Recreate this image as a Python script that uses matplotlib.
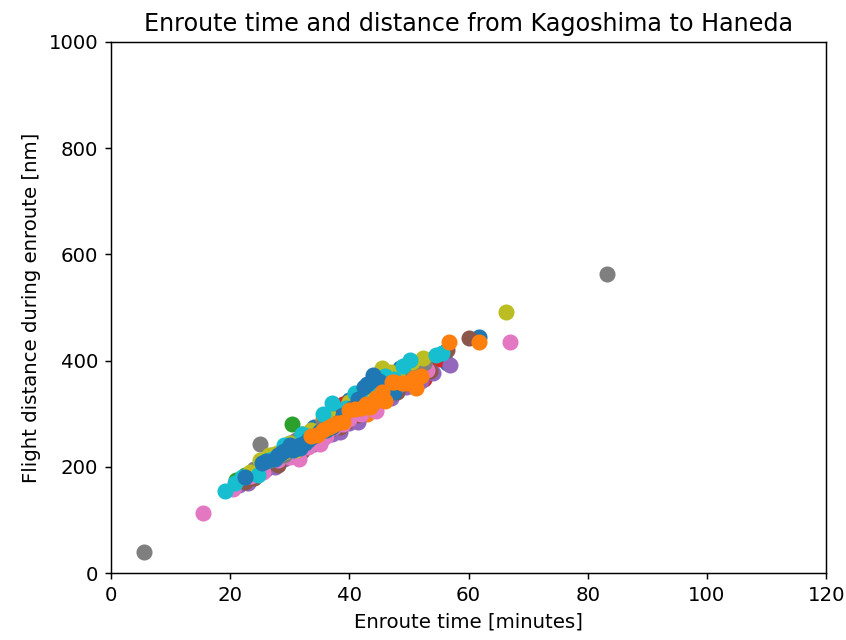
import pandas as pd
import matplotlib.pyplot as plt

# enroute time [min] and flight distance [nm], listed day by day
enroute_min = [
    22.0, 26.5, 28.0, 31.0, 33.5, 35.0, 37.0, 39.5, 41.0, 43.5, 45.0, 47.5, 53.8, 56.3, 61.8, 29.5, 38.0,
    24.5, 30.0, 34.0, 36.5, 40.0, 42.0, 48.5, 51.0,
    24.0, 27.0, 32.0, 34.0, 36.5, 40.0, 42.0, 44.0, 46.5, 49.0, 51.5, 38.5,
    23.0, 29.0, 31.5, 35.5, 41.0, 43.0, 47.0, 50.0,
    21.0, 25.0, 28.5, 30.3, 33.0, 36.0, 39.0, 41.5, 44.0, 46.5, 48.5, 35.0,
    22.5, 27.0, 32.0, 37.5, 40.5, 42.5, 49.0, 53.0,
    23.0, 27.5, 30.5, 34.5, 37.5, 40.5, 43.0, 46.0, 49.5, 52.5, 51.0, 38.5,
    24.5, 28.5, 32.5, 36.0, 39.0, 44.5, 47.5, 55.0,
    21.5, 26.0, 29.0, 32.5, 35.5, 38.0, 41.0, 45.4, 47.0, 54.1, 56.9, 43.5,
    23.0, 27.5, 31.0, 34.0, 37.0, 40.0, 44.0, 49.5, 52.0, 38.5, 41.5, 47.0,
    22.5, 26.0, 30.0, 33.0, 36.5, 39.5, 42.5, 45.5, 49.0, 56.3, 60.1, 51.5,
    24.0, 28.0, 32.0, 35.0, 38.5, 41.5, 44.5, 48.0, 53.5,
    15.5, 23.5, 28.0, 31.5, 34.0, 37.5, 40.0, 43.0, 46.0, 53.0, 67.0, 48.0,
    20.5, 25.5, 30.0, 33.0, 36.0, 39.0, 42.0, 45.0, 50.5, 31.5, 35.0, 44.5,
    5.5, 25.0, 83.2, 24.0, 29.0, 33.5, 37.0, 41.5, 44.5, 50.4, 47.5,
    27.0, 31.0, 35.5, 39.5, 43.0, 48.5, 52.5, 46.0,
    66.3, 23.4, 27.8, 26.5, 31.0, 35.0, 38.5, 42.5, 45.4, 52.3, 48.0, 29.0,
    25.0, 30.0, 33.5, 36.5, 40.0, 43.5, 47.0, 50.5,
    19.1, 20.8, 24.7, 30.6, 37.0, 33.0, 39.5, 42.0, 50.2, 54.5, 44.5, 27.0, 47.5,
    22.0, 26.0, 29.0, 32.0, 35.5, 41.0, 46.0, 49.0, 55.5,
    22.5, 25.3, 27.5, 30.5, 31.7, 32.5, 34.0, 36.0, 38.0, 40.5, 42.4, 44.0, 31.7, 29.0, 46.5,
    26.0, 28.5, 30.0, 33.0, 35.0, 37.0, 39.0, 41.5, 45.0, 47.5, 43.0, 28.0,
    43.5, 45.1, 47.1, 42.1, 39.0, 37.3, 35.6, 34.5, 45.4, 46.0, 47.5, 48.8, 50.9, 51.2, 56.7, 61.8, 41.0, 44.0,
    36.5, 38.0, 40.0, 42.8, 44.5, 33.5, 49.5, 52.0,
]
distance_nm = [
    170, 205, 214, 238, 252, 262, 280, 300, 305, 330, 345, 350, 402, 395, 444, 228, 290,
    195, 245, 275, 300, 325, 298, 385, 365,
    190, 208, 245, 262, 270, 296, 320, 335, 340, 372, 380, 302,
    172, 235, 230, 290, 335, 300, 372, 352,
    175, 198, 222, 280, 250, 282, 305, 318, 340, 376, 362, 258,
    185, 222, 262, 305, 288, 345, 388, 392,
    180, 212, 230, 262, 285, 300, 322, 350, 368, 365, 360, 293,
    190, 218, 255, 285, 318, 350, 348, 402,
    165, 196, 215, 240, 255, 272, 295, 362, 342, 377, 392, 318,
    170, 200, 222, 242, 262, 283, 310, 350, 362, 265, 285, 330,
    172, 203, 224, 248, 268, 285, 312, 333, 355, 419, 442, 372,
    178, 204, 230, 255, 275, 298, 320, 340, 380,
    112, 183, 212, 236, 250, 274, 290, 318, 338, 382, 435, 352,
    158, 190, 218, 238, 258, 280, 300, 322, 358, 215, 243, 305,
    40, 243, 563, 196, 222, 256, 276, 310, 330, 382, 357,
    218, 250, 280, 312, 340, 375, 395, 362,
    491, 191, 225, 222, 232, 265, 288, 328, 385, 404, 374, 228,
    212, 245, 270, 295, 322, 345, 378, 398,
    155, 169, 185, 235, 320, 258, 310, 325, 401, 410, 356, 215, 365,
    180, 210, 240, 262, 300, 338, 370, 390, 415,
    180, 207, 215, 232, 241, 245, 258, 270, 283, 310, 351, 373, 235, 230, 355,
    210, 225, 240, 250, 268, 275, 298, 328, 362, 340, 355, 222,
    313, 332, 360, 310, 285, 279, 269, 260, 341, 323, 360, 358, 367, 348, 435, 434, 308, 320,
    275, 282, 306, 318, 330, 258, 358, 370,
]
flights_per_day = [25, 20, 20, 20, 24, 21, 24, 19, 20, 22, 27, 26]
flight_day = [day for day, n in enumerate(flights_per_day) for _ in range(n)]

df = pd.DataFrame({'time': enroute_min, 'distance': distance_nm, 'day': flight_day})

fig = plt.figure(figsize=(6.41, 4.85), dpi=132)
ax = fig.add_axes([0.1312, 0.1047, 0.8452, 0.8297])

# one scatter per day, colours follow the default cycle
for day, group in df.groupby('day'):
    ax.scatter(group['time'], group['distance'], s=60)

ax.set_xlim(0, 120)
ax.set_ylim(0, 1000)
ax.tick_params(labelsize=10.8)
ax.set_title('Enroute time and distance from Kagoshima to Haneda', fontsize=13)
ax.set_xlabel('Enroute time [minutes]', fontsize=10.8)
ax.set_ylabel('Flight distance during enroute [nm]', fontsize=10.8)

fig.savefig('out.png', dpi=132)
